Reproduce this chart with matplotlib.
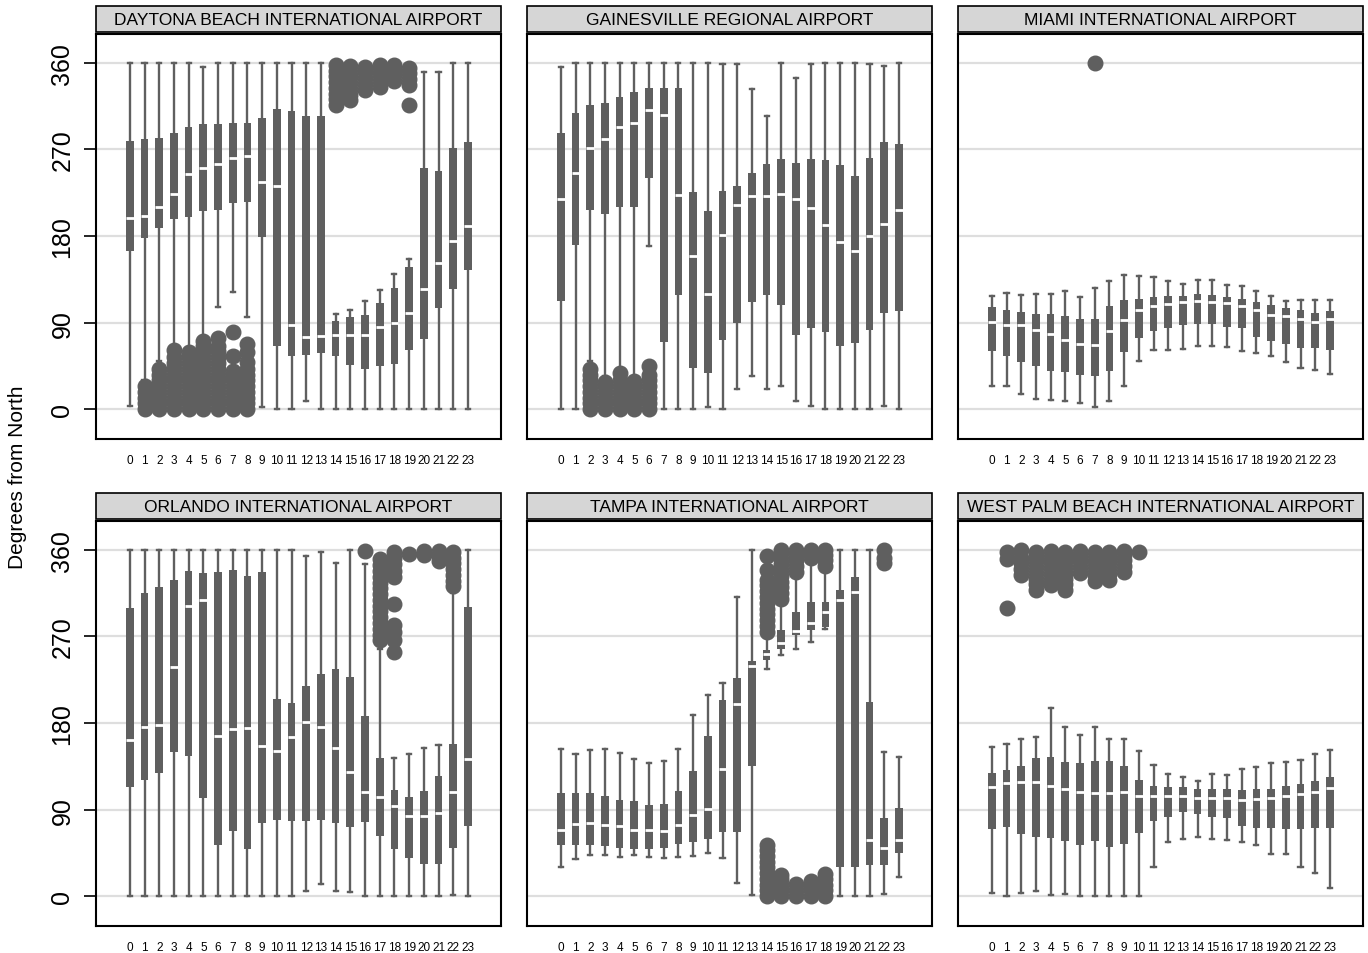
'''
    hourly wind direction box plots for six florida airports
'''
import matplotlib
matplotlib.use('Agg')
from matplotlib import pyplot as plt
from matplotlib.patches import Rectangle

plt.rcParams['font.family'] = ['Liberation Sans', 'DejaVu Sans']

hours = list(range(24))
ytick_vals = [0, 90, 180, 270, 360]

# ---- DAYTONA BEACH ----
daytona_lo = [3, 30, 50, 66, 65, 76, 106, 122, 96, 2, 0, 0, 8, 0, 0, 0, 0, 0, 0, 0, 0, 0, 0, 0]
daytona_q1 = [164, 178, 188, 198, 200, 206, 207, 214, 215, 179, 66, 55, 56, 58, 55, 46, 42, 45, 47, 61, 73, 105, 125, 145]
daytona_med = [199, 201, 210, 224, 244, 251, 255, 261, 263, 236, 232, 87, 75, 76, 77, 77, 77, 85, 90, 100, 125, 152, 175, 190]
daytona_q3 = [279, 281, 282, 287, 293, 296, 296, 298, 298, 303, 312, 310, 305, 305, 92, 96, 98, 110, 126, 148, 251, 248, 271, 278]
daytona_hi = [360, 360, 360, 360, 360, 356, 360, 360, 360, 360, 360, 360, 360, 360, 99, 103, 112, 124, 140, 156, 351, 351, 360, 360]
daytona_out = {
    1: [0, 6, 12, 18, 24],
    2: [0, 6, 12, 18, 24, 30, 36, 42],
    3: [0, 6, 12, 18, 24, 30, 36, 42, 48, 54, 62],
    4: [0, 6, 12, 18, 24, 30, 36, 42, 48, 54, 59],
    5: [0, 6, 12, 18, 24, 30, 36, 42, 48, 54, 60, 66, 71],
    6: [0, 6, 12, 18, 24, 30, 36, 42, 48, 54, 60, 66, 74],
    7: [0, 6, 12, 18, 24, 30, 36, 40, 55, 80],
    8: [0, 6, 12, 18, 24, 30, 36, 42, 49, 59, 68],
    14: [316, 322, 328, 334, 340, 346, 352, 358],
    15: [321, 327, 333, 339, 345, 351, 357],
    16: [332, 338, 344, 350, 356],
    17: [335, 341, 347, 353, 358],
    18: [341, 347, 353, 358],
    19: [316, 337, 343, 349, 355],
}

# ---- GAINESVILLE ----
gaines_lo = [0, 0, 50, 35, 40, 32, 170, 0, 0, 0, 2, 0, 21, 35, 21, 24, 9, 3, 0, 0, 0, 0, 3, 0]
gaines_q1 = [112, 171, 207, 203, 210, 210, 240, 70, 119, 43, 38, 72, 90, 111, 119, 108, 77, 84, 80, 66, 69, 82, 100, 102]
gaines_med = [219, 245, 272, 281, 293, 298, 311, 306, 223, 159, 120, 181, 212, 222, 222, 224, 218, 209, 191, 174, 164, 180, 193, 207]
gaines_q3 = [287, 308, 316, 318, 325, 330, 334, 334, 334, 226, 206, 227, 232, 245, 255, 260, 256, 260, 259, 254, 242, 261, 278, 276]
gaines_hi = [356, 360, 360, 360, 360, 360, 360, 360, 360, 360, 360, 359, 359, 333, 305, 360, 344, 359, 360, 360, 360, 359, 357, 360]
gaines_out = {
    2: [0, 6, 12, 18, 24, 30, 36, 42],
    3: [0, 6, 12, 18, 24, 28],
    4: [0, 6, 12, 18, 24, 30, 38],
    5: [0, 6, 12, 18, 24, 29],
    6: [0, 6, 12, 18, 24, 30, 36, 45],
}

# ---- MIAMI ----
miami_lo = [24, 24, 16, 11, 10, 8, 6, 2, 8, 24, 50, 61, 61, 63, 66, 66, 65, 60, 58, 55, 49, 43, 41, 37]
miami_q1 = [60, 55, 49, 45, 40, 39, 36, 35, 40, 59, 74, 81, 84, 88, 89, 89, 85, 84, 75, 71, 68, 64, 64, 62]
miami_med = [91, 87, 88, 82, 78, 72, 68, 67, 81, 93, 103, 107, 109, 111, 112, 111, 110, 107, 103, 98, 97, 94, 91, 94]
miami_q3 = [106, 103, 101, 99, 99, 97, 94, 94, 107, 114, 115, 117, 118, 118, 120, 119, 117, 115, 111, 108, 105, 103, 100, 102]
miami_hi = [118, 121, 119, 120, 120, 123, 117, 126, 133, 139, 138, 137, 133, 130, 134, 134, 129, 128, 123, 118, 112, 113, 114, 114]
miami_out = {7: [360]}

# ---- ORLANDO ----
orlando_lo = [0, 0, 0, 0, 0, 0, 0, 0, 0, 0, 0, 0, 5, 13, 5, 4, 0, 0, 0, 0, 0, 0, 1, 0]
orlando_q1 = [114, 121, 128, 150, 146, 102, 53, 68, 49, 76, 79, 78, 78, 79, 76, 72, 77, 63, 49, 40, 33, 33, 50, 73]
orlando_med = [162, 176, 178, 238, 302, 308, 167, 174, 175, 156, 151, 165, 181, 176, 154, 129, 108, 103, 94, 83, 83, 86, 108, 143]
orlando_q3 = [300, 315, 321, 329, 338, 336, 337, 339, 333, 337, 205, 201, 219, 231, 236, 228, 187, 144, 110, 103, 109, 125, 158, 301]
orlando_hi = [360, 360, 360, 360, 360, 360, 360, 360, 360, 360, 360, 360, 354, 358, 346, 360, 345, 257, 144, 148, 154, 157, 315, 360]
orlando_out = {
    16: [359],
    17: [266, 272, 278, 284, 290, 296, 302, 308, 314, 320, 326, 332, 338, 344, 351],
    18: [254, 266, 275, 282, 304, 332, 338, 345, 352, 358],
    19: [356],
    20: [355, 359],
    21: [348, 354, 359],
    22: [322, 328, 334, 340, 346, 352, 358],
}

# ---- TAMPA ----
tampa_lo = [30, 39, 43, 43, 41, 43, 41, 40, 41, 42, 45, 40, 14, 1, 236, 251, 257, 264, 278, 0, 0, 0, 2, 20]
tampa_q1 = [53, 53, 53, 52, 50, 49, 49, 50, 54, 56, 59, 67, 67, 135, 245, 257, 272, 277, 280, 30, 30, 32, 32, 45]
tampa_med = [69, 75, 76, 74, 73, 69, 69, 68, 74, 84, 91, 132, 200, 239, 252, 263, 276, 284, 295, 308, 316, 58, 50, 58]
tampa_q3 = [107, 107, 107, 104, 100, 99, 95, 96, 109, 130, 166, 204, 227, 244, 256, 277, 295, 306, 306, 318, 332, 202, 81, 92]
tampa_hi = [153, 148, 152, 153, 149, 143, 138, 141, 153, 188, 209, 222, 311, 360, 268, 304, 334, 346, 339, 360, 360, 360, 150, 145]
tampa_out = {
    14: [0, 6, 12, 18, 24, 30, 36, 42, 48, 53,
         275, 281, 287, 293, 299, 305, 311, 317, 323, 329, 339, 354],
    15: [0, 6, 12, 18, 22, 309, 315, 321, 327, 333, 339, 345, 351, 357, 360],
    16: [0, 6, 13, 337, 343, 349, 355, 360],
    17: [0, 6, 11, 16, 352, 357, 360],
    18: [0, 6, 12, 18, 23, 343, 349, 355, 360],
    22: [346, 352, 360],
}

# ---- WEST PALM BEACH ----
wpb_lo = [3, 0, 3, 5, 1, 2, 0, 0, 0, 0, 0, 30, 56, 59, 62, 59, 58, 56, 53, 44, 44, 30, 24, 9]
wpb_q1 = [70, 72, 65, 61, 60, 57, 53, 57, 51, 54, 66, 78, 82, 87, 85, 82, 81, 73, 71, 71, 70, 70, 71, 71]
wpb_med = [114, 118, 119, 119, 115, 111, 108, 107, 107, 108, 104, 104, 104, 104, 102, 102, 102, 100, 101, 102, 104, 106, 108, 112]
wpb_q3 = [128, 131, 135, 144, 145, 139, 138, 141, 141, 135, 121, 115, 113, 113, 111, 111, 111, 110, 111, 111, 115, 117, 120, 124]
wpb_hi = [155, 158, 163, 165, 196, 176, 168, 176, 163, 163, 151, 136, 127, 124, 120, 127, 126, 132, 134, 138, 139, 142, 148, 152]
wpb_out = {
    1: [300, 350, 358],
    2: [334, 340, 346, 352, 360],
    3: [318, 324, 330, 336, 342, 348, 354, 358],
    4: [323, 329, 335, 341, 347, 353, 359],
    5: [318, 324, 330, 336, 342, 348, 354, 358],
    6: [336, 342, 348, 354, 359],
    7: [328, 334, 340, 346, 352, 358],
    8: [329, 335, 341, 347, 353, 358],
    9: [337, 343, 349, 355, 359],
    10: [358],
}

BOX = '#5f5f5f'


def draw_panel(ax, title, lo, q1, med, q3, hi, out, show_y):
    stats = []
    for h in hours:
        stats.append({'whislo': lo[h], 'q1': q1[h], 'med': med[h],
                      'q3': q3[h], 'whishi': hi[h], 'fliers': out.get(h, [])})
    for v in ytick_vals:
        ax.axhline(v, color='#dedede', lw=1.6, zorder=0)
    ax.bxp(stats, positions=hours, widths=0.52, patch_artist=True,
           showfliers=True, manage_ticks=False,
           boxprops=dict(facecolor=BOX, edgecolor=BOX, linewidth=0),
           whiskerprops=dict(color=BOX, linewidth=1.7),
           capprops=dict(color=BOX, linewidth=1.7),
           capwidths=0.28,
           medianprops=dict(color='white', linewidth=2.0, solid_capstyle='butt'),
           flierprops=dict(marker='o', markerfacecolor=BOX, markeredgecolor=BOX,
                           markersize=10.5, linestyle='none'))
    ax.set_xlim(-2.3, 25.25)
    ax.set_ylim(-31, 390)
    ax.set_xticks(hours)
    ax.set_xticklabels([str(h) for h in hours], fontsize=8.5)
    ax.tick_params(axis='x', length=0, pad=11)
    for s in ax.spines.values():
        s.set_linewidth(1.5)
        s.set_color('black')
    if show_y:
        ax.set_yticks(ytick_vals)
        ax.set_yticklabels([str(v) for v in ytick_vals], fontsize=18, rotation=90, va='center')
        ax.tick_params(axis='y', length=8.5, width=1.2, pad=7)
    else:
        ax.set_yticks([])
    strip = Rectangle((0, 1.005), 1, 0.064, transform=ax.transAxes, clip_on=False,
                      facecolor='#d6d6d6', edgecolor='black', linewidth=1.2)
    ax.add_patch(strip)
    ax.text(0.5, 1.037, title, transform=ax.transAxes, ha='center', va='center', fontsize=12.5)


fig = plt.figure(figsize=(13.68, 9.54), dpi=100)
col_x = [96 / 1368, 527 / 1368, 958 / 1368]
row_y = [1 - 440 / 954, 1 - 927 / 954]
w = 405 / 1368
h = 405 / 954

panels = [
    ('DAYTONA BEACH INTERNATIONAL AIRPORT', daytona_lo, daytona_q1, daytona_med, daytona_q3, daytona_hi, daytona_out),
    ('GAINESVILLE REGIONAL AIRPORT', gaines_lo, gaines_q1, gaines_med, gaines_q3, gaines_hi, gaines_out),
    ('MIAMI INTERNATIONAL AIRPORT', miami_lo, miami_q1, miami_med, miami_q3, miami_hi, miami_out),
    ('ORLANDO INTERNATIONAL AIRPORT', orlando_lo, orlando_q1, orlando_med, orlando_q3, orlando_hi, orlando_out),
    ('TAMPA INTERNATIONAL AIRPORT', tampa_lo, tampa_q1, tampa_med, tampa_q3, tampa_hi, tampa_out),
    ('WEST PALM BEACH INTERNATIONAL AIRPORT', wpb_lo, wpb_q1, wpb_med, wpb_q3, wpb_hi, wpb_out),
]

for i, p in enumerate(panels):
    r, c = divmod(i, 3)
    ax = fig.add_axes([col_x[c], row_y[r], w, h])
    draw_panel(ax, *p, show_y=(c == 0))

fig.text(0.013, 0.5, 'Degrees from North', rotation=90, ha='center', va='center', fontsize=15)

fig.savefig('out.png', dpi=100)
